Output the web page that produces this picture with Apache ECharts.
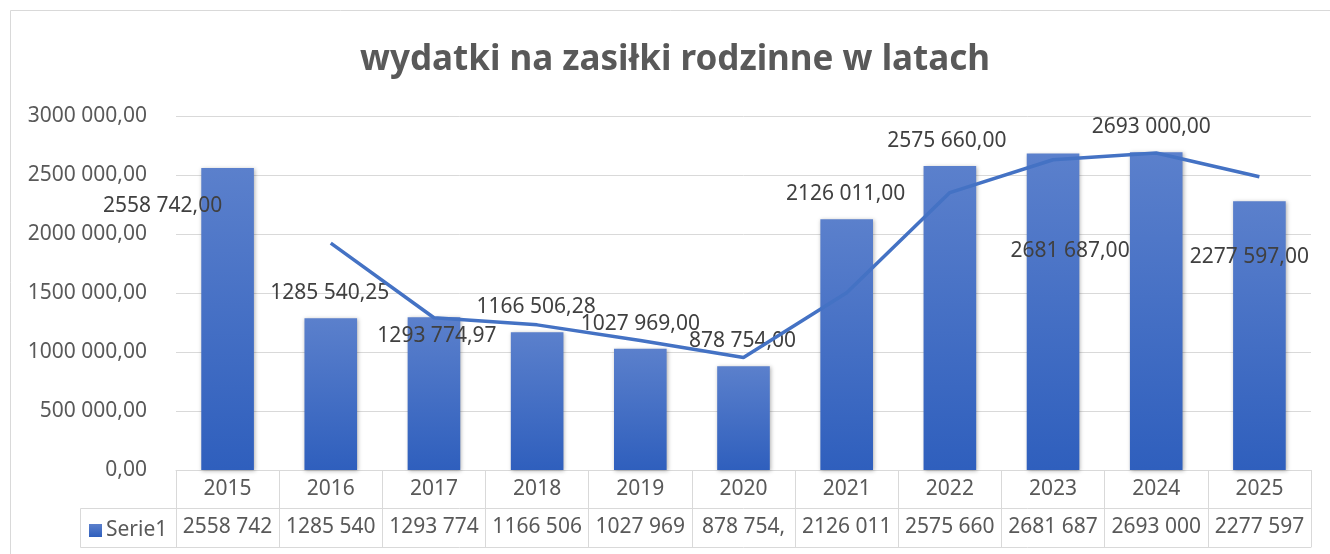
<!DOCTYPE html>
<html>
<head>
<meta charset="utf-8">
<script src="https://cdn.jsdelivr.net/npm/echarts@6/dist/echarts.min.js"></script>
<style>
html,body{margin:0;padding:0;background:#fff;}
#chart{width:1330px;height:554px;}
</style>
</head>
<body>
<div id="chart"></div>
<script>
// ---- data ----
const titleText = 'wydatki na zasiłki rodzinne w latach';
const seriesName = 'Serie1';
const years = ['2015','2016','2017','2018','2019','2020','2021','2022','2023','2024','2025'];
const values = [2558742.00, 1285540.25, 1293774.97, 1166506.28, 1027969.00, 878754.00, 2126011.00, 2575660.00, 2681687.00, 2693000.00, 2277597.00];
// trendline (moving average) values
const trendValues = [null, 1922000, 1290000, 1230000, 1097000, 953000, 1502000, 2351000, 2629000, 2687000, 2485000];
const yTicks = [0, 500000, 1000000, 1500000, 2000000, 2500000, 3000000];

// ---- styling (label placement as in reference) ----
const labelOffsets = [[-65,63],[-1,0],[3,44],[-1,0],[0,0],[-1,0],[-1,0],[-3,0],[17,122],[-5,0],[-10,81]];

function fmt(n){
  const s = n.toFixed(2).split('.');
  let i = s[0];
  if (i.length > 3) i = i.slice(0, -3) + ' ' + i.slice(-3);
  return i + ',' + s[1];
}
const tableTexts = values.map(v => fmt(v).slice(0, 8));

const FONT = 'Noto Sans';
const GRID = '#d9d9d9';
const TXT = '#595959';

const chart = echarts.init(document.getElementById('chart'), null, {renderer:'canvas'});

const barGrad = new echarts.graphic.LinearGradient(0,0,0,1,[
  {offset:0,color:'#5B80CC'},{offset:1,color:'#2F5FBD'}
]);

const option = {
  animation:false,
  backgroundColor:'#fff',
  textStyle:{fontFamily:FONT},
  title:{
    text:titleText, left:675, top:43, textAlign:'center', padding:0,
    textStyle:{fontFamily:FONT,fontSize:35,fontWeight:'bold',color:TXT}
  },
  legend:{
    data:[seriesName], left:89, top:520, itemWidth:13, itemHeight:13, itemGap:5,
    icon:'rect', padding:0,
    textStyle:{fontFamily:FONT,fontSize:21,color:TXT,padding:[0,0,0,-1]}
  },
  grid:{left:176,right:19,top:116,bottom:84,containLabel:false},
  xAxis:[
    {type:'category',data:years,position:'bottom',
     axisLine:{show:true,lineStyle:{color:GRID,width:1}},
     axisTick:{show:true,interval:0,length:77,lineStyle:{color:GRID,width:1}},
     axisLabel:{interval:0,margin:8,fontFamily:FONT,fontSize:21,color:TXT,lineHeight:22}},
    {type:'category',data:tableTexts,position:'bottom',offset:38,
     axisLine:{show:true,lineStyle:{color:GRID,width:1}},
     axisTick:{show:false},
     axisLabel:{interval:0,margin:8,fontFamily:FONT,fontSize:21,color:TXT,lineHeight:22}},
    {type:'category',data:years,position:'bottom',offset:77,
     axisLine:{show:true,lineStyle:{color:GRID,width:1}},
     axisTick:{show:false},axisLabel:{show:false}}
  ],
  yAxis:{
    type:'value',min:yTicks[0],max:yTicks[yTicks.length-1],interval:yTicks[1]-yTicks[0],
    axisLine:{show:false},axisTick:{show:false},
    splitLine:{lineStyle:{color:GRID,width:1}},
    axisLabel:{margin:29,fontFamily:FONT,fontSize:21,color:TXT,formatter:v=>fmt(v)}
  },
  series:[
    {name:seriesName,type:'bar',xAxisIndex:0,barWidth:'51%',
     itemStyle:{color:barGrad,shadowColor:'rgba(0,0,0,0.3)',shadowBlur:4,shadowOffsetX:1,shadowOffsetY:1},
     label:{show:true,position:'top',distance:14,fontFamily:FONT,fontSize:21,lineHeight:22,color:'#404040',
            formatter:p=>fmt(p.value)},
     data:values.map((v,i)=>({value:v,label:{offset:labelOffsets[i]}}))
    },
    {name:'trend',type:'line',xAxisIndex:0,data:trendValues,showSymbol:false,symbol:'none',
     lineStyle:{color:'#4472C4',width:3.5},itemStyle:{color:'#4472C4'},z:3,silent:true}
  ],
  graphic:[
    {type:'rect',shape:{x:10.5,y:10.5,width:1400,height:600},style:{fill:null,stroke:GRID,lineWidth:1},silent:true},
    {type:'polyline',shape:{points:[[176,508.5],[80.5,508.5],[80.5,547.5],[176,547.5]]},style:{fill:null,stroke:GRID,lineWidth:1},silent:true}
  ]
};
chart.setOption(option);
</script>
</body>
</html>
